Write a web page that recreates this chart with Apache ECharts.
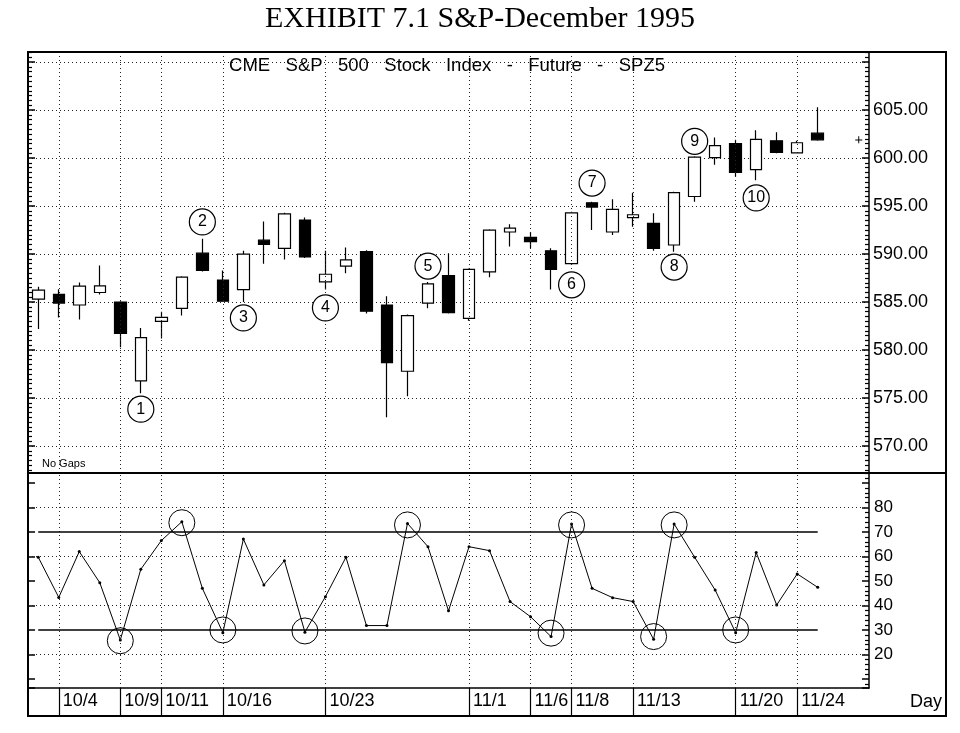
<!DOCTYPE html>
<html>
<head>
<meta charset="utf-8">
<script src="https://cdn.jsdelivr.net/npm/echarts@6/dist/echarts.min.js"></script>
<style>
html,body{margin:0;padding:0;background:#fff;}
#chart{width:960px;height:733px;}
</style>
</head>
<body>
<div id="chart"></div>
<script>
// ---- data ----
const dates = ['10/3','10/4','10/5','10/6','10/9','10/10','10/11','10/12','10/13','10/16','10/17','10/18','10/19','10/20','10/23','10/24','10/25','10/26','10/27','10/30','10/31','11/1','11/2','11/3','11/6','11/7','11/8','11/9','11/10','11/13','11/14','11/15','11/16','11/17','11/20','11/21','11/22','11/24','11/27','11/28','11/29'];
const labeledDates = ['10/4','10/9','10/11','10/16','10/23','11/1','11/6','11/8','11/13','11/20','11/24'];
const openP  = [585.3,585.8,584.7,586.0,585.0,576.8,583.0,584.35,590.1,587.3,586.3,591.45,590.6,593.55,587.1,588.75,590.25,584.7,577.8,584.9,587.75,583.3,588.15,592.3,591.75,590.35,589.0,595.35,592.3,593.8,593.2,590.95,596.0,600.05,601.5,598.8,601.8,600.55,602.6];
const closeP = [586.25,584.9,586.67,586.7,581.75,581.3,583.4,587.6,588.3,585.1,590.0,591.0,594.2,589.7,587.9,589.4,584.05,578.7,583.6,586.9,583.9,588.4,592.5,592.7,591.3,588.4,594.3,594.9,594.65,594.1,590.6,596.4,600.1,601.3,598.5,601.95,600.6,601.6,601.9];
const lowP   = [582.2,583.4,583.2,585.8,580.3,575.5,581.2,583.6,588.2,585.1,585.0,589.0,589.45,589.6,586.3,588.0,583.8,573.0,575.2,584.35,583.8,583.05,587.6,590.8,590.6,586.3,588.9,592.5,592.0,592.85,590.35,590.25,595.45,599.3,598.05,597.7,600.5,600.5,601.8];
const highP  = [586.6,586.35,587.05,588.8,585.1,582.3,584.0,587.7,591.6,588.3,590.35,593.4,594.3,593.8,590.35,590.7,590.4,585.6,583.7,587.1,590.1,588.5,592.6,593.1,592.3,590.6,594.4,595.45,595.7,596.4,594.25,596.5,600.2,602.15,601.9,602.9,602.7,601.8,605.3];
const osc = [59.7,43.3,62.0,49.3,25.9,54.8,66.5,74.2,47.0,28.9,67.1,48.4,58.3,29.1,43.6,59.7,31.8,31.8,73.5,64.0,37.8,64.0,62.4,41.6,35.4,27.3,73.3,47.0,43.2,41.6,26.2,73.3,59.7,46.3,28.9,61.6,40.2,52.9,47.4];
const oscBands = [70, 30];
const oscGridLevels = [20, 40, 60, 80];
const priceNotes = [['1','10/10',573.85],['2','10/13',593.35],['3','10/17',583.35],['4','10/23',584.4],['5','10/30',588.75],['6','11/8',586.8],['7','11/9',597.4],['8','11/15',588.65],['9','11/16',601.75],['10','11/21',595.85]];
const lastMark = ['11/29', 601.9];
const oscCircles = [['10/9',25.6],['10/12',73.8],['10/16',30.0],['10/20',29.6],['10/27',72.9],['11/7',28.7],['11/8',72.9],['11/14',27.3],['11/15',72.9],['11/20',30.0]];

// ---- build ----
const candleData = openP.map((o, i) => [o, closeP[i], lowP[i], highP[i]]);
const dotted = {color: '#222', width: 1, type: [1, 3]};
const FONT = 'Liberation Sans';
const isLabeled = (idx, val) => labeledDates.indexOf(val) >= 0;
const priceRange = {min: 567.2, max: 611.05, minInterval: 5, maxInterval: 5};
const oscRange = {min: 6.3, max: 94.1, minInterval: 10, maxInterval: 10};
const tickOnly = (grid, pos, range, minorSplit) => Object.assign({
  type: 'value', gridIndex: grid, position: pos,
  axisLine: {show: false},
  axisTick: {show: true, inside: true, length: 7, lineStyle: {color: '#000', width: 1.5}},
  minorTick: {show: minorSplit > 0, splitNumber: minorSplit || 5, length: 4, lineStyle: {color: '#000', width: 1.2}},
  axisLabel: {show: false}, splitLine: {show: false}
}, range);

const chart = echarts.init(document.getElementById('chart'), null, {renderer: 'canvas'});
chart.setOption({
  animation: false,
  backgroundColor: '#fff',
  title: {
    text: 'EXHIBIT 7.1 S&P-December 1995',
    left: 'center', top: 2, padding: [2, 0, 0, 0],
    textStyle: {fontFamily: 'Liberation Serif', fontSize: 30, fontWeight: 'normal', color: '#000'}
  },
  grid: [
    {left: 28, right: 91, top: 52, height: 421},
    {left: 28, right: 91, top: 473, height: 215}
  ],
  xAxis: [
    {type: 'category', gridIndex: 0, data: dates, boundaryGap: true,
     axisLine: {show: false}, axisTick: {show: false}, axisLabel: {show: false}, splitLine: {show: false}},
    {type: 'category', gridIndex: 1, data: dates, boundaryGap: true,
     axisLine: {show: true, lineStyle: {color: '#000', width: 1.5}},
     axisTick: {show: true, alignWithLabel: true, interval: isLabeled, length: 28, lineStyle: {color: '#000', width: 1.2}},
     axisLabel: {show: true, interval: isLabeled, align: 'left', padding: [0, 0, 0, 4], margin: 4,
                 fontFamily: FONT, fontSize: 18, color: '#000'},
     splitLine: {show: false}}
  ],
  yAxis: [
    Object.assign({type: 'value', gridIndex: 0, position: 'right',
     axisLine: {show: true, lineStyle: {color: '#000', width: 1.5}},
     axisTick: {show: false},
     axisLabel: {show: true, margin: 4, fontFamily: FONT, fontSize: 18, color: '#000', padding: [0, 0, 6, 0],
                 formatter: v => (v <= 605.01 && Math.abs(v / 5 - Math.round(v / 5)) < 1e-6 ? v.toFixed(2) : '')},
     splitLine: {show: true, lineStyle: dotted}}, priceRange),
    tickOnly(0, 'left', priceRange, 10),
    Object.assign({type: 'value', gridIndex: 1, position: 'right',
     axisLine: {show: true, lineStyle: {color: '#000', width: 1.5}},
     axisTick: {show: false},
     axisLabel: {show: true, margin: 5, fontFamily: FONT, fontSize: 17, color: '#000',
                 formatter: v => (v >= 19.99 && v <= 80.01 && Math.abs(v / 10 - Math.round(v / 10)) < 1e-6 ? String(Math.round(v)) : '')},
     splitLine: {show: false}}, oscRange),
    tickOnly(1, 'left', oscRange, 0),
    tickOnly(0, 'right', priceRange, 10),
    tickOnly(1, 'right', oscRange, 5)
  ],
  series: [
    {
      type: 'candlestick', xAxisIndex: 0, yAxisIndex: 0, data: candleData, barWidth: 12,
      itemStyle: {color: '#fff', color0: '#000', borderColor: '#000', borderColor0: '#000', borderWidth: 1.2},
      emphasis: {disabled: true},
      markLine: {
        silent: true, symbol: ['none', 'none'], label: {show: false}, animation: false,
        lineStyle: dotted,
        data: labeledDates.map(d => ({xAxis: d}))
      },
      markPoint: {
        silent: true, animation: false,
        data: priceNotes.map(n => ({
          name: n[0], coord: [n[1], n[2]], symbol: 'circle', symbolSize: 26,
          itemStyle: {color: '#fff', borderColor: '#000', borderWidth: 1.2},
          label: {show: true, formatter: '{b}', color: '#000', fontFamily: FONT, fontSize: 16}
        })).concat([{
          name: '', coord: lastMark, symbol: 'path://M0,4.4h10v1.4h-10zM4.3,0h1.4v10h-1.4z', symbolSize: 7,
          itemStyle: {color: '#000'}, label: {show: false}
        }])
      }
    },
    {
      type: 'line', xAxisIndex: 1, yAxisIndex: 2, data: osc,
      symbol: 'circle', symbolSize: 3, showSymbol: true,
      lineStyle: {color: '#000', width: 1}, itemStyle: {color: '#000'},
      emphasis: {disabled: true},
      markLine: {
        silent: true, symbol: ['none', 'none'], label: {show: false}, animation: false,
        data: labeledDates.map(d => ({xAxis: d, lineStyle: dotted}))
          .concat(oscGridLevels.map(v => ({yAxis: v, lineStyle: dotted})))
          .concat(oscBands.map(v => [
            {coord: [dates[0], v], lineStyle: {color: '#000', width: 1.5, type: 'solid'}},
            {coord: [dates[osc.length - 1], v]}
          ]))
      },
      markPoint: {
        silent: true, animation: false,
        data: oscCircles.map(c => ({
          coord: [c[0], c[1]], symbol: 'circle', symbolSize: 26,
          itemStyle: {color: 'rgba(0,0,0,0)', borderColor: '#000', borderWidth: 1},
          label: {show: false}
        }))
      }
    }
  ],
  graphic: [
    {type: 'rect', shape: {x: 28, y: 52, width: 918, height: 664}, style: {fill: null, stroke: '#000', lineWidth: 2}, z: 100, silent: true},
    {type: 'line', shape: {x1: 28, y1: 473, x2: 946, y2: 473}, style: {stroke: '#000', lineWidth: 2}, z: 100, silent: true},
    {type: 'text', x: 447, y: 66, z: 100, silent: true,
     style: {text: 'CME   S&P   500   Stock   Index   -   Future   -   SPZ5', textAlign: 'center', textVerticalAlign: 'middle',
             font: '18.5px "Liberation Sans"', fill: '#000'}},
    {type: 'text', x: 42, y: 464, z: 100, silent: true,
     style: {text: 'No Gaps', textAlign: 'left', textVerticalAlign: 'middle', font: '11px "Liberation Sans"', fill: '#000'}},
    {type: 'text', x: 926, y: 702, z: 100, silent: true,
     style: {text: 'Day', textAlign: 'center', textVerticalAlign: 'middle', font: '18px "Liberation Sans"', fill: '#000'}}
  ]
});
</script>
</body>
</html>
